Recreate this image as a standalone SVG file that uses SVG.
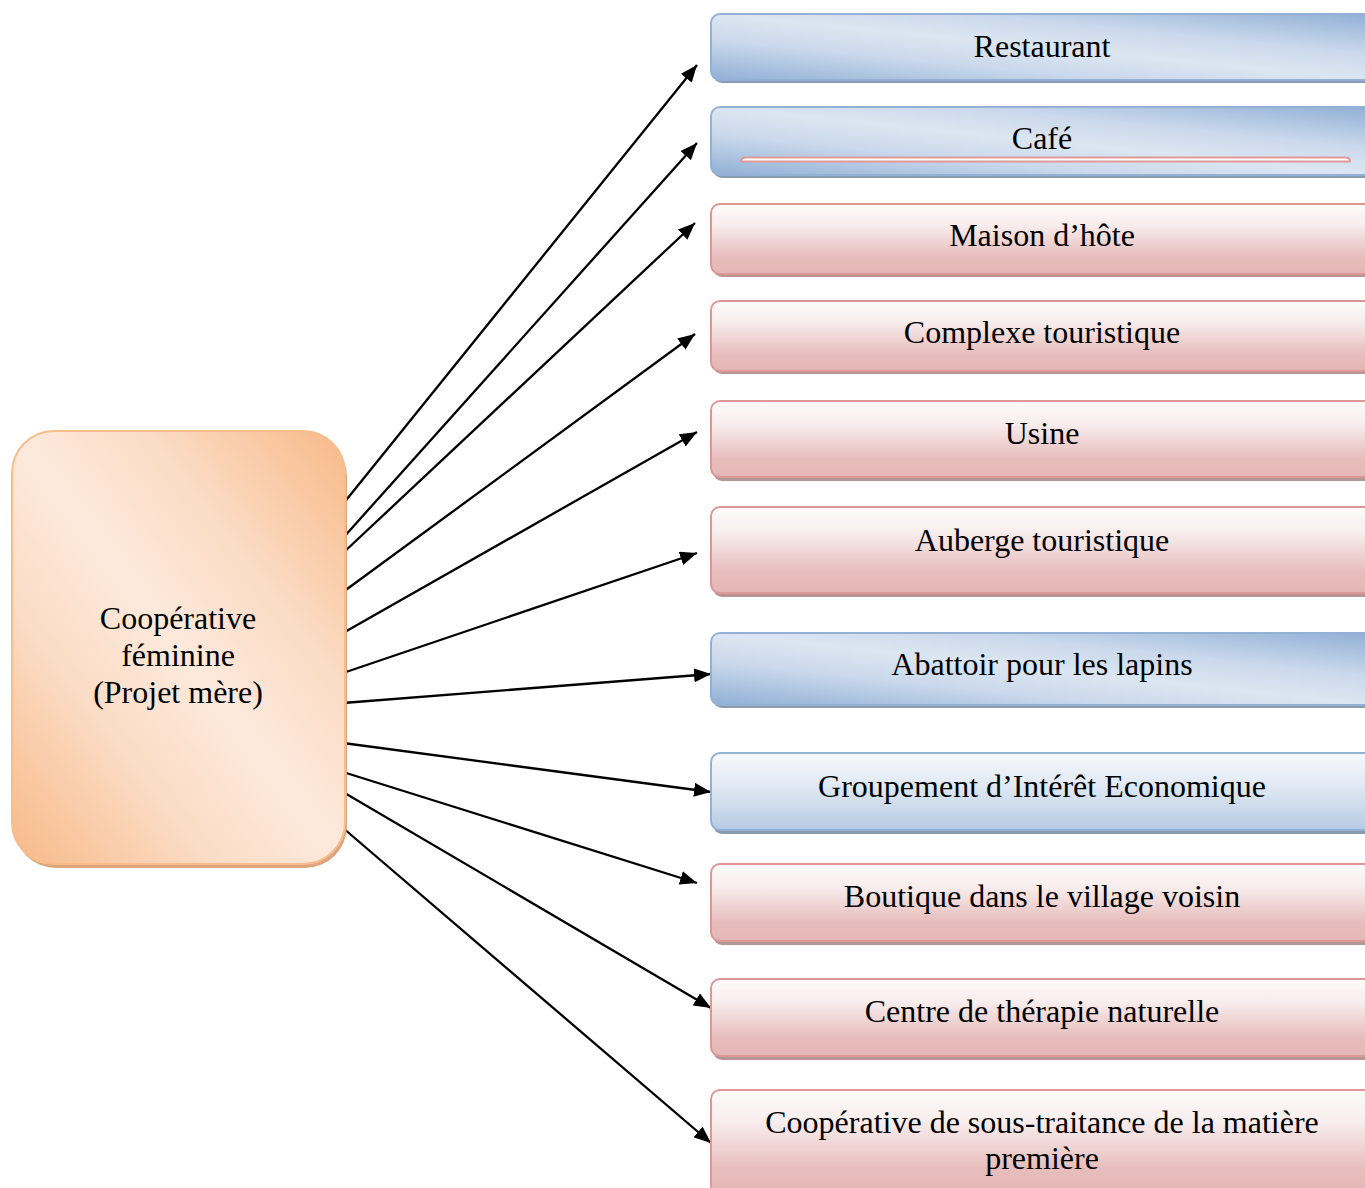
<svg xmlns="http://www.w3.org/2000/svg" width="1365" height="1188" viewBox="0 0 1365 1188">
<style>
.t{font-family:"Liberation Serif","Times New Roman",serif;font-size:32px;fill:#000;text-anchor:middle}
.conn line{stroke:#000;stroke-width:2.3;marker-end:url(#ah)}
.rb{fill:url(#gRed);stroke:#de9797;stroke-width:2}
.rs{fill:#b69595}
.bb{fill:url(#gBlue);stroke:#94b1d5;stroke-width:2}
.bs{fill:#8c9bb0}
</style>
<defs>
<marker id="ah" markerUnits="userSpaceOnUse" markerWidth="18" markerHeight="14" refX="17" refY="7" orient="auto">
<path d="M0,0 L17,7 L0,14 Z" fill="#000"/>
</marker>
<linearGradient id="gRed" x1="0" y1="0" x2="0" y2="1">
<stop offset="0" stop-color="#fefbfb"/>
<stop offset="0.3" stop-color="#f8eded"/>
<stop offset="0.75" stop-color="#e7bebd"/>
<stop offset="1" stop-color="#e4b7b6"/>
</linearGradient>
<linearGradient id="gBlue" x1="0" y1="1" x2="1" y2="0">
<stop offset="0" stop-color="#90afd5"/>
<stop offset="0.3" stop-color="#c9d8eb"/>
<stop offset="0.5" stop-color="#dce6f2"/>
<stop offset="0.7" stop-color="#c9d8eb"/>
<stop offset="1" stop-color="#90afd5"/>
</linearGradient>
<linearGradient id="gBlue2" x1="0" y1="0" x2="0" y2="1">
<stop offset="0" stop-color="#f7f9fc"/>
<stop offset="0.4" stop-color="#e2eaf4"/>
<stop offset="1" stop-color="#b6cbe4"/>
</linearGradient>
<linearGradient id="gOr" x1="0" y1="1" x2="1" y2="0">
<stop offset="0" stop-color="#f8b987"/>
<stop offset="0.3" stop-color="#fbdcc5"/>
<stop offset="0.5" stop-color="#fde9dc"/>
<stop offset="0.7" stop-color="#fbdcc5"/>
<stop offset="1" stop-color="#f8b987"/>
</linearGradient>
</defs>

<g id="conns" class="conn">
<line x1="343" y1="504" x2="697" y2="65"/>
<line x1="343" y1="538" x2="697" y2="143"/>
<line x1="343" y1="553" x2="695" y2="223"/>
<line x1="343" y1="592" x2="695" y2="334"/>
<line x1="343" y1="633" x2="697" y2="432"/>
<line x1="343" y1="673" x2="697" y2="553"/>
<line x1="343" y1="703" x2="711" y2="674"/>
<line x1="343" y1="743" x2="711" y2="792"/>
<line x1="343" y1="772" x2="697" y2="883"/>
<line x1="343" y1="792" x2="711" y2="1008"/>
<line x1="343" y1="828" x2="711" y2="1143"/>
</g>

<g id="n-root">
<rect x="14" y="435" width="333" height="433" rx="42" fill="#dea57a"/>
<rect x="12" y="431" width="333" height="433" rx="42" fill="url(#gOr)" stroke="#f7bd8d" stroke-width="2"/>
<text class="t" x="178" y="629">Coopérative</text>
<text class="t" x="178" y="666">féminine</text>
<text class="t" x="178" y="703">(Projet mère)</text>
</g>

<g id="n-restaurant">
<rect class="bs" x="713" y="17" width="662" height="66" rx="9"/>
<rect class="bb" x="711" y="14" width="662" height="66" rx="9"/>
<text class="t" x="1042" y="57">Restaurant</text>
</g>

<g id="n-cafe">
<rect class="bs" x="713" y="110" width="662" height="68" rx="9"/>
<rect class="bb" x="711" y="107" width="662" height="68" rx="9"/>
<path d="M741,161.5 Q741,157.5 746,157.5 L1345,157.5 Q1350,157.5 1350,161.5 Z" fill="#fff" stroke="#e09a9a" stroke-width="2"/>
<text class="t" x="1042" y="149">Café</text>
</g>

<g id="n-maison">
<rect class="rs" x="713" y="207" width="662" height="70" rx="9"/>
<rect class="rb" x="711" y="204" width="662" height="70" rx="9"/>
<text class="t" x="1042" y="246">Maison d’hôte</text>
</g>

<g id="n-complexe">
<rect class="rs" x="713" y="304" width="662" height="70" rx="9"/>
<rect class="rb" x="711" y="301" width="662" height="70" rx="9"/>
<text class="t" x="1042" y="343">Complexe touristique</text>
</g>

<g id="n-usine">
<rect class="rs" x="713" y="405" width="662" height="76" rx="9"/>
<rect class="rb" x="711" y="401" width="662" height="76" rx="9"/>
<text class="t" x="1042" y="444">Usine</text>
</g>

<g id="n-auberge">
<rect class="rs" x="713" y="511" width="662" height="86" rx="9"/>
<rect class="rb" x="711" y="507" width="662" height="86" rx="9"/>
<text class="t" x="1042" y="551">Auberge touristique</text>
</g>

<g id="n-abattoir">
<rect class="bs" x="713" y="636" width="662" height="72" rx="9"/>
<rect class="bb" x="711" y="633" width="662" height="72" rx="9"/>
<text class="t" x="1042" y="675">Abattoir pour les lapins</text>
</g>

<g id="n-gie">
<rect class="bs" x="713" y="757" width="662" height="77" rx="9"/>
<rect x="711" y="753" width="662" height="77" rx="9" fill="url(#gBlue2)" stroke="#94b1d5" stroke-width="2"/>
<text class="t" x="1042" y="797">Groupement d’Intérêt Economique</text>
</g>

<g id="n-boutique">
<rect class="rs" x="713" y="868" width="662" height="77" rx="9"/>
<rect class="rb" x="711" y="864" width="662" height="77" rx="9"/>
<text class="t" x="1042" y="907">Boutique dans le village voisin</text>
</g>

<g id="n-centre">
<rect class="rs" x="713" y="983" width="662" height="77" rx="9"/>
<rect class="rb" x="711" y="979" width="662" height="77" rx="9"/>
<text class="t" x="1042" y="1022">Centre de thérapie naturelle</text>
</g>

<g id="n-soustraitance">
<rect class="rs" x="713" y="1094" width="662" height="104" rx="9"/>
<rect class="rb" x="711" y="1090" width="662" height="104" rx="9"/>
<text class="t" x="1042" y="1133">Coopérative de sous-traitance de la matière</text>
<text class="t" x="1042" y="1169">première</text>
</g>
</svg>
